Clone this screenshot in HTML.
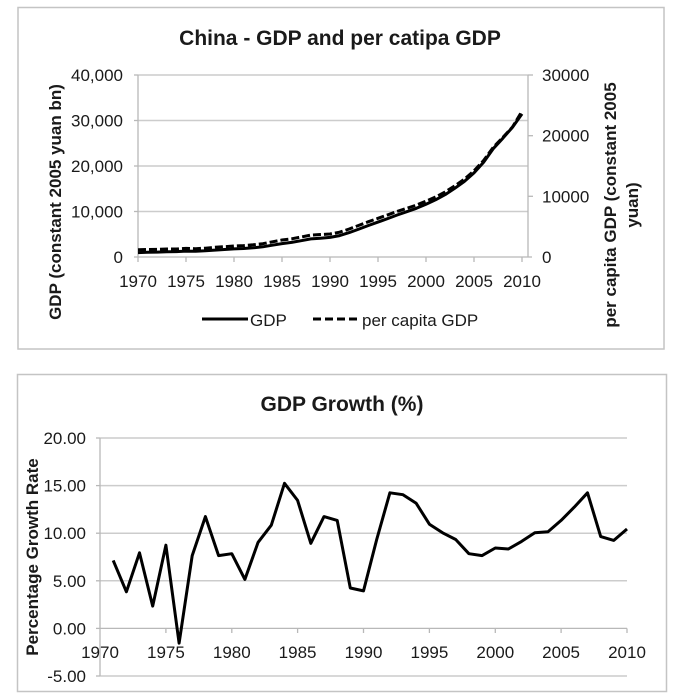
<!DOCTYPE html>
<html><head><meta charset="utf-8"><style>
html,body{margin:0;padding:0;background:#fff;}
svg{display:block;}
text{font-family:"Liberation Sans",Arial,sans-serif;fill:#1a1a1a;}
.t{font-size:17px;}
.b{font-weight:bold;font-size:17px;}
</style></head><body>
<svg width="678" height="700" viewBox="0 0 678 700" xmlns="http://www.w3.org/2000/svg">
<rect x="0" y="0" width="678" height="700" fill="#fff"/>
<!-- Top chart border -->
<rect x="18" y="7.5" width="646" height="341.5" fill="none" stroke="#c4c4c4" stroke-width="1.5"/>
<text x="340" y="45" text-anchor="middle" style="font-size:21px;font-weight:bold">China - GDP and per catipa GDP</text>
<!-- gridlines -->
<g stroke="#cccccc" stroke-width="1.5">
<line x1="138" y1="75" x2="528" y2="75"/>
<line x1="138" y1="120.5" x2="528" y2="120.5"/>
<line x1="138" y1="166" x2="528" y2="166"/>
<line x1="138" y1="211.5" x2="528" y2="211.5"/>
</g>
<g stroke="#b8b8b8" stroke-width="1.3">
<line x1="138" y1="75" x2="138" y2="257"/>
<line x1="528" y1="75" x2="528" y2="257"/>
<line x1="134" y1="257" x2="532" y2="257"/>
<line x1="134" y1="75" x2="138" y2="75"/>
<line x1="134" y1="120.5" x2="138" y2="120.5"/>
<line x1="134" y1="166" x2="138" y2="166"/>
<line x1="134" y1="211.5" x2="138" y2="211.5"/>
<line x1="528" y1="75" x2="533" y2="75"/>
<line x1="528" y1="135.7" x2="533" y2="135.7"/>
<line x1="528" y1="196.3" x2="533" y2="196.3"/>
<line x1="138" y1="257" x2="138" y2="262"/>
<line x1="186" y1="257" x2="186" y2="262"/>
<line x1="234" y1="257" x2="234" y2="262"/>
<line x1="282" y1="257" x2="282" y2="262"/>
<line x1="330" y1="257" x2="330" y2="262"/>
<line x1="378" y1="257" x2="378" y2="262"/>
<line x1="426" y1="257" x2="426" y2="262"/>
<line x1="474" y1="257" x2="474" y2="262"/>
<line x1="522" y1="257" x2="522" y2="262"/>
</g>
<g class="t" text-anchor="end">
<text x="123" y="81">40,000</text>
<text x="123" y="126.5">30,000</text>
<text x="123" y="172">20,000</text>
<text x="123" y="217.5">10,000</text>
<text x="123" y="263">0</text>
</g>
<g class="t">
<text x="542" y="81">30000</text>
<text x="542" y="141.7">20000</text>
<text x="542" y="202.3">10000</text>
<text x="542" y="263">0</text>
</g>
<g class="t" text-anchor="middle">
<text x="138" y="287">1970</text>
<text x="186" y="287">1975</text>
<text x="234" y="287">1980</text>
<text x="282" y="287">1985</text>
<text x="330" y="287">1990</text>
<text x="378" y="287">1995</text>
<text x="426" y="287">2000</text>
<text x="474" y="287">2005</text>
<text x="522" y="287">2010</text>
</g>
<text class="b" transform="translate(61,202) rotate(-90)" text-anchor="middle">GDP (constant 2005 yuan bn)</text>
<text class="b" transform="translate(616,205) rotate(-90)" text-anchor="middle">per capita GDP (constant 2005</text>
<text class="b" transform="translate(638,205) rotate(-90)" text-anchor="middle">yuan)</text>
<!-- series -->
<polyline fill="none" stroke="#000" stroke-width="3" stroke-linejoin="round" points="138,252.6 147.6,252.3 157.2,252.1 166.8,251.7 176.4,251.6 186,251.1 195.6,251.2 205.2,250.8 214.8,250.1 224.4,249.5 234,248.9 243.6,248.5 253.2,247.8 262.8,246.8 272.4,245.2 282,243.6 291.6,242.4 301.2,240.7 310.8,238.9 320.4,238.2 330,237.4 339.6,235.6 349.2,232.6 358.8,229.1 368.4,225.5 378,222.1 387.6,218.6 397.2,215 406.8,211.7 416.4,208.3 426,204.2 435.6,199.8 445.2,194.6 454.8,188.3 464.4,181.4 474,172.9 483.6,162.2 493.2,148.7 502.8,138.3 512.4,127.4 522,113.9"/>
<polyline fill="none" stroke="#000" stroke-width="3" stroke-dasharray="8,3" points="138,249.8 147.6,249.5 157.2,249.4 166.8,249 176.4,249 186,248.4 195.6,248.7 205.2,248.2 214.8,247.3 224.4,246.7 234,246 243.6,245.6 253.2,244.8 262.8,243.7 272.4,241.8 282,240 291.6,238.8 301.2,237 310.8,235.1 320.4,234.5 330,234 339.6,232.2 349.2,229 358.8,225.4 368.4,221.7 378,218.3 387.6,214.9 397.2,211.4 406.8,208.3 416.4,205.1 426,201.2 435.6,197 445.2,191.9 454.8,185.9 464.4,179.2 474,170.9 483.6,160.5 493.2,147.4 502.8,137.5 512.4,127.1 522,111.3"/>
<!-- legend -->
<line x1="202" y1="319" x2="248" y2="319" stroke="#000" stroke-width="3"/>
<text class="t" x="250" y="326">GDP</text>
<line x1="313" y1="319" x2="360" y2="319" stroke="#000" stroke-width="3" stroke-dasharray="8,4"/>
<text class="t" x="362" y="326">per capita GDP</text>

<!-- Bottom chart -->
<rect x="17.5" y="374.5" width="649" height="317" fill="none" stroke="#c4c4c4" stroke-width="1.5"/>
<text x="342" y="411" text-anchor="middle" style="font-size:21px;font-weight:bold">GDP Growth (%)</text>
<g stroke="#cccccc" stroke-width="1.5">
<line x1="100" y1="438" x2="627" y2="438"/>
<line x1="100" y1="485.6" x2="627" y2="485.6"/>
<line x1="100" y1="533.2" x2="627" y2="533.2"/>
<line x1="100" y1="580.8" x2="627" y2="580.8"/>
<line x1="100" y1="676" x2="627" y2="676"/>
</g>
<g stroke="#b8b8b8" stroke-width="1.3">
<line x1="100" y1="438" x2="100" y2="676"/>
<line x1="100" y1="628.4" x2="627" y2="628.4"/>
<line x1="96" y1="438" x2="100" y2="438"/>
<line x1="96" y1="485.6" x2="100" y2="485.6"/>
<line x1="96" y1="533.2" x2="100" y2="533.2"/>
<line x1="96" y1="580.8" x2="100" y2="580.8"/>
<line x1="96" y1="628.4" x2="100" y2="628.4"/>
<line x1="96" y1="676" x2="100" y2="676"/>
<line x1="165.9" y1="628.4" x2="165.9" y2="633"/>
<line x1="231.8" y1="628.4" x2="231.8" y2="633"/>
<line x1="297.6" y1="628.4" x2="297.6" y2="633"/>
<line x1="363.5" y1="628.4" x2="363.5" y2="633"/>
<line x1="429.4" y1="628.4" x2="429.4" y2="633"/>
<line x1="495.3" y1="628.4" x2="495.3" y2="633"/>
<line x1="561.1" y1="628.4" x2="561.1" y2="633"/>
<line x1="627" y1="628.4" x2="627" y2="633"/>
</g>
<g class="t" text-anchor="end">
<text x="86" y="444">20.00</text>
<text x="86" y="491.6">15.00</text>
<text x="86" y="539.2">10.00</text>
<text x="86" y="586.8">5.00</text>
<text x="86" y="634.4">0.00</text>
<text x="86" y="682">-5.00</text>
</g>
<g class="t" text-anchor="middle">
<text x="100" y="658">1970</text>
<text x="165.9" y="658">1975</text>
<text x="231.8" y="658">1980</text>
<text x="297.6" y="658">1985</text>
<text x="363.5" y="658">1990</text>
<text x="429.4" y="658">1995</text>
<text x="495.3" y="658">2000</text>
<text x="561.1" y="658">2005</text>
<text x="627" y="658">2010</text>
</g>
<text class="b" transform="translate(38,557) rotate(-90)" text-anchor="middle">Percentage Growth Rate</text>
<polyline fill="none" stroke="#000" stroke-width="3" stroke-linejoin="round" points="113.2,560.4 126.4,591.8 139.5,552.8 152.7,606.1 165.9,545.2 179.1,643.2 192.2,555.6 205.4,516.6 218.6,555.6 231.8,553.7 244.9,579.4 258.1,542.3 271.3,525.2 284.5,483.3 297.6,500.4 310.8,543.3 324,516.6 337.2,520.4 350.3,588 363.5,590.9 376.7,539.5 389.9,492.8 403,494.7 416.2,503.3 429.4,524.2 442.6,532.8 455.7,539.5 468.9,553.7 482.1,555.6 495.3,548 508.4,549 521.6,541.4 534.8,532.8 548,531.8 561.1,520.4 574.3,507.1 587.5,492.8 600.7,536.6 613.8,540.4 627,529"/>
</svg>
</body></html>
